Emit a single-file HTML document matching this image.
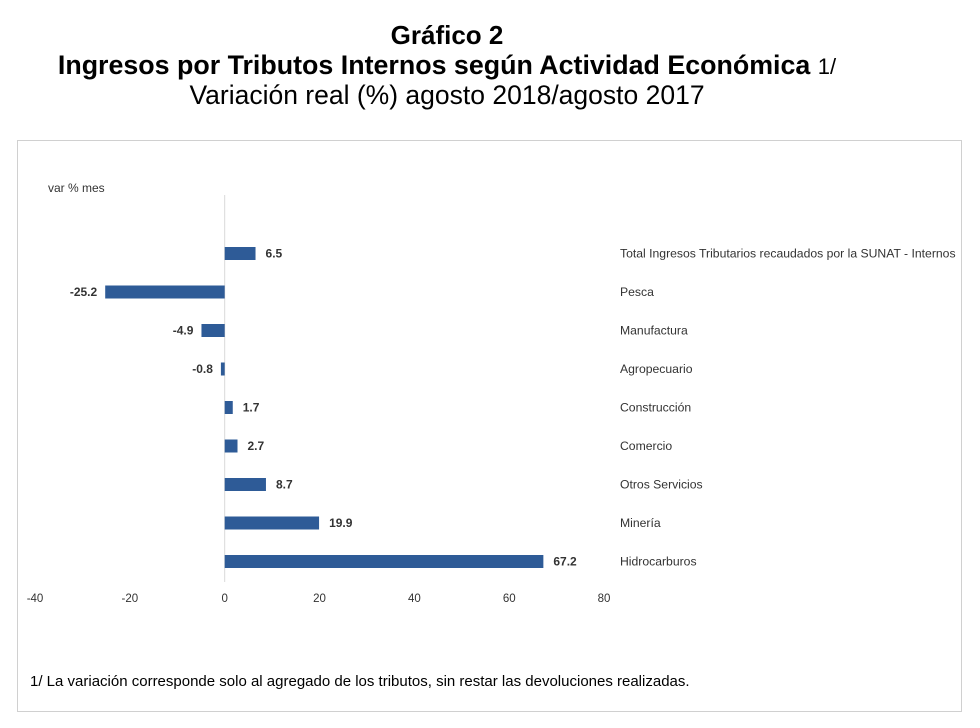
<!DOCTYPE html>
<html><head><meta charset="utf-8"><style>
body{margin:0;background:#fff;width:980px;height:728px;overflow:hidden;font-family:"Liberation Sans",sans-serif}
.t{position:absolute;left:0;width:894px;text-align:center;color:#000;white-space:nowrap}
</style></head><body>
<div class="t" style="top:20px;font-size:26px;font-weight:bold">Gráfico 2</div>
<div class="t" style="top:50px;font-size:26.8px;font-weight:bold">Ingresos por Tributos Internos según Actividad Económica <span style="font-weight:normal;font-size:22px">1/</span></div>
<div class="t" style="top:80px;font-size:26.5px">Variación real (%) agosto 2018/agosto 2017</div>
<svg id="c" width="980" height="728" style="position:absolute;left:0;top:0">
<rect x="17.5" y="140.5" width="944" height="571" fill="none" stroke="#d0d0d0"/>
<text x="48" y="192" font-size="12" fill="#333">var % mes</text>
<text x="30" y="686" font-size="15" fill="#000">1/ La variación corresponde solo al agregado de los tributos, sin restar las devoluciones realizadas.</text>
</svg>
<script>
const categories=["Total Ingresos Tributarios recaudados por la SUNAT - Internos","Pesca","Manufactura","Agropecuario","Construcción","Comercio","Otros Servicios","Minería","Hidrocarburos"];
const values=[6.5,-25.2,-4.9,-0.8,1.7,2.7,8.7,19.9,67.2];
const ticks=[-40,-20,0,20,40,60,80];
const svg=document.getElementById('c');const NS='http://www.w3.org/2000/svg';
const x=v=>224.7+v*4.742;
const y=i=>253.5+i*38.5;
function mk(t,a){const e=document.createElementNS(NS,t);for(const k in a)e.setAttribute(k,a[k]);svg.appendChild(e);return e;}
const ax=mk('line',{x1:x(0),x2:x(0),y1:195,y2:582,stroke:'#d9d9d9'});


ticks.forEach(t=>{const e=mk('text',{x:x(t),y:602,'font-size':11.5,fill:'#333','text-anchor':'middle'});e.textContent=t;

});
values.forEach((v,i)=>{
const b=mk('rect',{x:Math.min(x(0),x(v)),y:y(i)-6.5,width:Math.abs(x(v)-x(0)),height:13,fill:'#2e5b97'});


const l=mk('text',{x:v>=0?x(v)+10:x(v)-8,y:y(i)+4,'font-size':12,'font-weight':'bold',fill:'#333','text-anchor':v>=0?'start':'end'});l.textContent=v.toFixed(1);


const c=mk('text',{x:620,y:y(i)+4,'font-size':12.2,fill:'#333'});c.textContent=categories[i];


});
</script>
</body></html>
